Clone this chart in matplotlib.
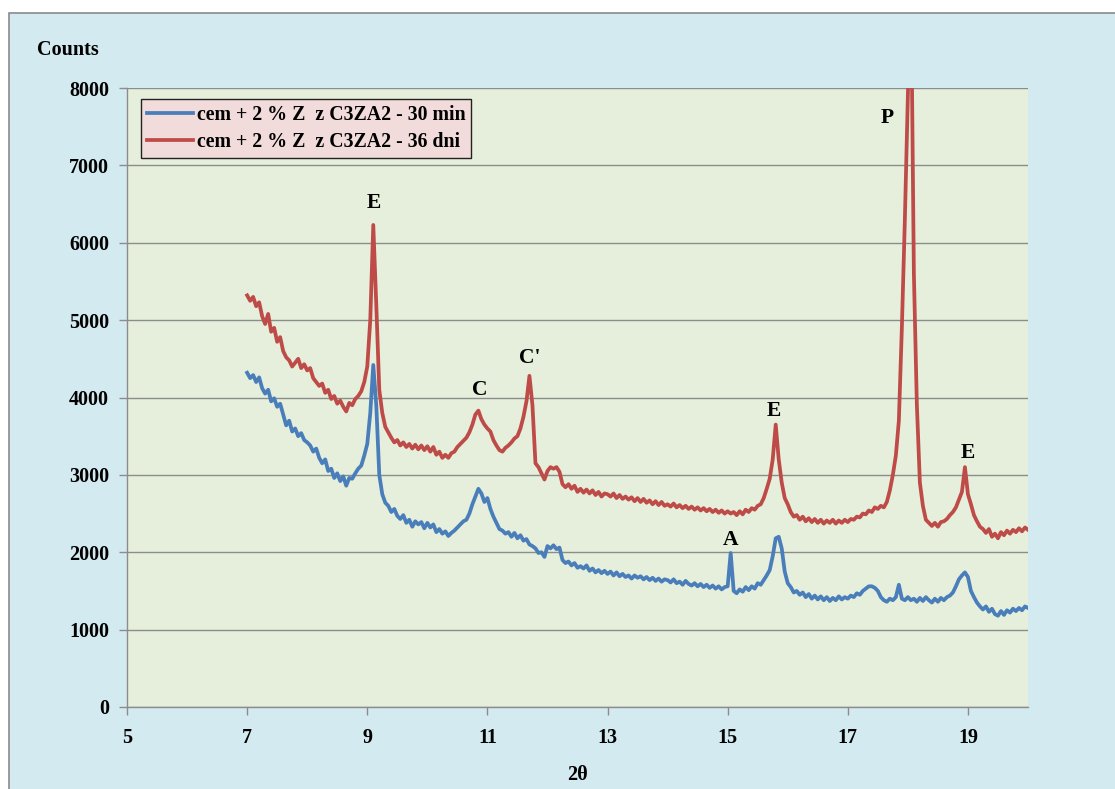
import numpy as np
import matplotlib
matplotlib.use("Agg")
import matplotlib.pyplot as plt
from matplotlib.patches import Rectangle

# 2-theta sampling grid (degrees), 7.00 .. 20.00 in 0.05 steps
two_theta = [round(7 + 0.05 * i, 2) for i in range(261)]

counts_30min = [
    4320, 4250, 4290, 4200, 4260, 4120, 4050, 4100, 3950, 3990, 3880, 3920, 3780, 3640, 3700, 3560, 3600, 3500, 3540, 3450,
    3420, 3380, 3300, 3340, 3220, 3150, 3200, 3050, 3080, 2960, 3020, 2920, 2980, 2860, 2960, 2950, 3020, 3080, 3120, 3250,
    3400, 3800, 4420, 3900, 3000, 2750, 2640, 2600, 2520, 2560, 2470, 2430, 2480, 2380, 2420, 2330, 2400, 2360, 2390, 2310,
    2380, 2320, 2360, 2260, 2300, 2240, 2270, 2210, 2250, 2280, 2320, 2360, 2400, 2420, 2500, 2620, 2720, 2820, 2760, 2650,
    2700, 2560, 2460, 2380, 2300, 2280, 2240, 2260, 2200, 2250, 2180, 2220, 2150, 2170, 2100, 2080, 2050, 1990, 2000, 1940,
    2080, 2050, 2090, 2040, 2060, 1900, 1860, 1880, 1830, 1860, 1800, 1820, 1790, 1830, 1760, 1790, 1740, 1770, 1730, 1760,
    1720, 1750, 1700, 1740, 1690, 1720, 1680, 1700, 1660, 1700, 1670, 1690, 1650, 1680, 1640, 1670, 1630, 1660, 1620, 1650,
    1640, 1610, 1650, 1600, 1620, 1580, 1630, 1590, 1570, 1600, 1560, 1590, 1550, 1580, 1540, 1570, 1530, 1560, 1520, 1550,
    1560, 1990, 1500, 1470, 1520, 1490, 1550, 1510, 1560, 1530, 1600, 1580, 1640, 1700, 1770, 1950, 2180, 2200, 2050, 1750,
    1600, 1550, 1480, 1500, 1450, 1480, 1420, 1460, 1400, 1440, 1390, 1430, 1380, 1420, 1370, 1410, 1380, 1430, 1390, 1420,
    1400, 1440, 1420, 1470, 1450, 1500, 1530, 1560, 1560, 1540, 1500, 1420, 1380, 1360, 1400, 1380, 1420, 1580, 1400, 1380,
    1420, 1380, 1400, 1360, 1410, 1370, 1420, 1380, 1350, 1400, 1360, 1410, 1380, 1420, 1440, 1480, 1560, 1650, 1700, 1740,
    1680, 1500, 1420, 1350, 1300, 1260, 1300, 1230, 1270, 1200, 1180, 1240, 1190, 1250, 1220, 1270, 1240, 1280, 1250, 1300,
    1280,
]

counts_36dni = [
    5320, 5250, 5300, 5180, 5230, 5050, 4950, 5080, 4850, 4900, 4720, 4780, 4600, 4520, 4480, 4400, 4450, 4500, 4380, 4430,
    4350, 4380, 4250, 4200, 4150, 4180, 4060, 4100, 3980, 4020, 3920, 3960, 3880, 3820, 3930, 3900, 3980, 4020, 4080, 4200,
    4400, 5000, 6230, 5200, 4100, 3800, 3620, 3550, 3480, 3420, 3450, 3380, 3420, 3360, 3400, 3340, 3390, 3330, 3380, 3320,
    3370, 3300, 3360, 3260, 3300, 3220, 3260, 3220, 3280, 3300, 3360, 3400, 3440, 3480, 3550, 3650, 3780, 3830, 3720, 3650,
    3600, 3560, 3450, 3380, 3320, 3300, 3350, 3380, 3420, 3470, 3500, 3600, 3750, 3950, 4280, 3900, 3150, 3100, 3020, 2940,
    3050, 3100, 3080, 3100, 3040, 2880, 2840, 2880, 2820, 2860, 2780, 2820, 2770, 2810, 2760, 2800, 2740, 2780, 2720, 2760,
    2750, 2720, 2760, 2700, 2740, 2690, 2720, 2680, 2710, 2660, 2700, 2650, 2690, 2640, 2670, 2620, 2660, 2610, 2650, 2600,
    2620, 2590, 2630, 2580, 2610, 2570, 2600, 2560, 2590, 2550, 2580, 2540, 2570, 2530, 2560, 2520, 2550, 2510, 2540, 2500,
    2530, 2500, 2520, 2480, 2530, 2490, 2550, 2520, 2570, 2550, 2600, 2620, 2700, 2820, 2950, 3200, 3650, 3200, 2900, 2700,
    2620, 2520, 2460, 2480, 2420, 2460, 2400, 2440, 2390, 2430, 2380, 2420, 2370, 2410, 2380, 2420, 2370, 2410, 2380, 2420,
    2390, 2430, 2420, 2460, 2450, 2500, 2490, 2540, 2520, 2580, 2560, 2600, 2580, 2650, 2800, 3000, 3250, 3700, 4900, 6300,
    7900, 9500, 5600, 3900, 2900, 2600, 2420, 2380, 2340, 2380, 2330, 2390, 2400, 2430, 2480, 2520, 2580, 2680, 2780, 3100,
    2750, 2620, 2480, 2400, 2330, 2300, 2250, 2300, 2200, 2240, 2180, 2260, 2220, 2280, 2240, 2290, 2260, 2310, 2270, 2320,
    2290,
]

series_labels = ["cem + 2 % Z  z C3ZA2 - 30 min", "cem + 2 % Z  z C3ZA2 - 36 dni"]

peak_labels = ["E", "C", "C'", "E", "A", "P", "E"]
peak_x = [9.11, 10.87, 11.71, 15.77, 15.05, 17.65, 19.0]
peak_y = [6510, 4100, 4510, 3825, 2160, 7610, 3280]

x_ticks = [5, 7, 9, 11, 13, 15, 17, 19]
y_ticks = [0, 1000, 2000, 3000, 4000, 5000, 6000, 7000, 8000]

serif = "Liberation Serif"
W, H = 1115, 789
fig = plt.figure(figsize=(W / 100, H / 100), dpi=100)
fig.patch.set_facecolor("white")
bg = Rectangle((9 / W, -0.02), (W + 20 - 9) / W, (H - 13) / H + 0.02,
               transform=fig.transFigure, facecolor="#d3eaf1",
               edgecolor="#8a8a8a", linewidth=1.2, zorder=-10)
fig.patches.append(bg)

ax = fig.add_axes([127 / W, (H - 707) / H, (1028 - 127) / W, (707 - 88) / H])
ax.set_zorder(1)
ax.set_facecolor("#e5efdb")

ax.plot(two_theta, counts_30min, color="#4a7ebb", linewidth=2.7, label=series_labels[0])
ax.plot(two_theta, counts_36dni, color="#be4b48", linewidth=2.7, label=series_labels[1])

ax.set_xlim(5, 20)
ax.set_ylim(0, 8000)
ax.set_xticks(x_ticks)
ax.set_yticks(y_ticks)
ax.yaxis.grid(True, color="#8c8c8c", linewidth=1.0)
ax.set_axisbelow(True)

for s in ["top", "right"]:
    ax.spines[s].set_visible(False)
for s in ["left", "bottom"]:
    ax.spines[s].set_color("#8c8c8c")
    ax.spines[s].set_linewidth(1.0)
ax.tick_params(axis="both", direction="out", length=6, color="#8c8c8c", width=1.0)
ax.tick_params(axis="y", pad=7)
ax.tick_params(axis="x", pad=9)
for lbl in ax.get_xticklabels() + ax.get_yticklabels():
    lbl.set_fontfamily(serif)
    lbl.set_fontweight("bold")
    lbl.set_fontsize(14.5)

for t, px, py in zip(peak_labels, peak_x, peak_y):
    ax.text(px, py, t, ha="center", va="center", fontsize=15.5, fontweight="bold", family=serif)

fig.text(37 / W, 1 - 50 / H, "Counts", ha="left", va="center", fontsize=14.5,
         fontweight="bold", family=serif, zorder=5)
fig.text(578 / W, 1 - 775 / H, "2\u03b8", ha="center", va="center", fontsize=14.5,
         fontweight="bold", family=serif, zorder=5)

leg = ax.legend(loc="upper left", bbox_to_anchor=(14 / 901, 1 - 11 / 619), frameon=True,
                fancybox=False, handlelength=2.3, handletextpad=0.2, borderpad=0.3,
                labelspacing=0.35, borderaxespad=0.0,
                prop={"family": serif, "weight": "bold", "size": 14.3})
leg.get_frame().set_facecolor("#f2dcdb")
leg.get_frame().set_edgecolor("#222222")
leg.get_frame().set_alpha(1.0)
leg.get_frame().set_linewidth(1.0)

fig.savefig("out.png", dpi=100, facecolor=fig.get_facecolor())
